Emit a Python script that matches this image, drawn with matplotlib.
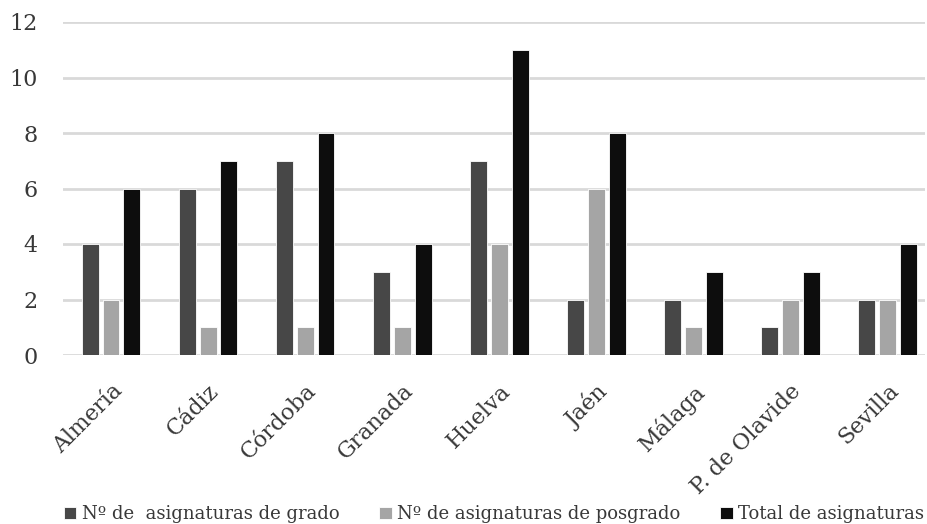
import numpy as np
import matplotlib.pyplot as plt

universidades = ['Almería', 'Cádiz', 'Córdoba', 'Granada', 'Huelva', 'Jaén',
                 'Málaga', 'P. de Olavide', 'Sevilla']
grado = [4, 6, 7, 3, 7, 2, 2, 1, 2]
posgrado = [2, 1, 1, 1, 4, 6, 1, 2, 2]
total = [6, 7, 8, 4, 11, 8, 3, 3, 4]

series = [('Nº de  asignaturas de grado', grado, '#474747'),
          ('Nº de asignaturas de posgrado', posgrado, '#a5a5a5'),
          ('Total de asignaturas', total, '#0d0d0d')]

plt.rcParams['font.family'] = ['DejaVu Serif']

fig = plt.figure(figsize=(9.27, 5.24), dpi=100)
ax = fig.add_axes([62.5 / 927, 1 - 355 / 524, (925 - 62.5) / 927, (355 - 22) / 524])

x = np.arange(len(universidades))
w = 0.175
off = 0.216
for i, (name, vals, col) in enumerate(series):
    ax.bar(x + (i - 1) * off, vals, w, color=col, edgecolor='white', linewidth=0.6,
           label=name, zorder=3)

ax.set_ylim(0, 12)
ax.set_xlim(-0.5, 8.39)
ax.set_yticks(range(0, 13, 2))
ax.yaxis.grid(True, color='#d9d9d9', linewidth=2, zorder=0)
ax.set_axisbelow(True)
for s in ax.spines.values():
    s.set_visible(False)
ax.tick_params(length=0)
ax.tick_params(axis='y', labelsize=16, colors='#383838', pad=18)
ax.set_xticks(x)
ax.set_xticklabels(universidades, rotation=45, ha='right', rotation_mode='anchor',
                   fontsize=16, color='#383838')
ax.tick_params(axis='x', pad=18)

leg = fig.legend(loc='lower center', bbox_to_anchor=(0.533, -0.03), ncol=3, frameon=False,
                 fontsize=13, handlelength=0.7, handleheight=0.7, handletextpad=0.3,
                 columnspacing=2.2)
for t in leg.get_texts():
    t.set_color('#383838')

plt.savefig('out.png', dpi=100)
